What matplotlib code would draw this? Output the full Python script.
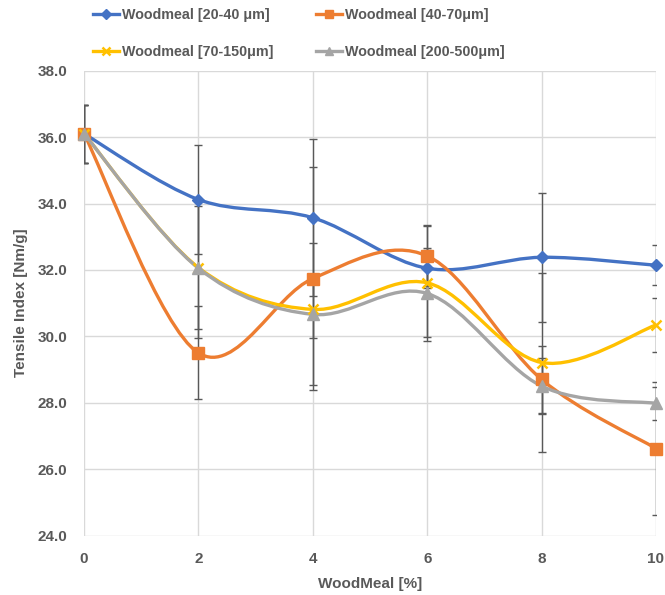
import matplotlib
matplotlib.use("Agg")
import matplotlib.pyplot as plt
import numpy as np
from matplotlib.path import Path
from matplotlib.patches import PathPatch
from matplotlib.lines import Line2D

# ---- data ----
woodmeal_pct = [0, 2, 4, 6, 8, 10]
series_names = ["Woodmeal [20-40 μm]", "Woodmeal [40-70μm]",
                "Woodmeal [70-150μm]", "Woodmeal [200-500μm]"]
tensile_20_40 = [36.1, 34.12, 33.57, 32.05, 32.38, 32.14]
tensile_40_70 = [36.1, 29.50, 31.74, 32.42, 28.70, 26.62]
tensile_70_150 = [36.1, 32.07, 30.81, 31.61, 29.21, 30.34]
tensile_200_500 = [36.1, 32.05, 30.66, 31.29, 28.50, 27.98]
err_20_40 = [0.87, 1.64, 2.36, 0.60, 1.95, 0.60]
err_40_70 = [0.87, 1.40, 3.35, 0.90, 1.00, 2.00]
err_70_150 = [0.87, 1.85, 0.87, 1.74, 2.70, 0.80]
err_200_500 = [0.87, 2.10, 2.14, 1.30, 0.85, 0.50]
y_ticks = [24.0, 26.0, 28.0, 30.0, 32.0, 34.0, 36.0, 38.0]
x_ticks = [0, 2, 4, 6, 8, 10]

colors = ["#4472C4", "#ED7D31", "#FFC000", "#A5A5A5"]
markers = ["D", "s", "x", "^"]
msizes = [6, 8, 7, 8]
values = [tensile_20_40, tensile_40_70, tensile_70_150, tensile_200_500]
errors = [err_20_40, err_40_70, err_70_150, err_200_500]

TXT = "#595959"
plt.rcParams['font.family'] = ['Liberation Sans', 'DejaVu Sans']
plt.rcParams['font.weight'] = 'bold'

fig = plt.figure(figsize=(6.65, 5.95), dpi=100)
ax = fig.add_axes([84/665, 1-535.5/595, (656-84)/665, (535.5-70.7)/595])


def smooth_path(x, y):
    pts = np.column_stack([x, y]).astype(float)
    n = len(pts)
    verts = [pts[0]]
    codes = [Path.MOVETO]
    for i in range(n-1):
        p0 = pts[i-1] if i > 0 else pts[i]
        p1 = pts[i]
        p2 = pts[i+1]
        p3 = pts[i+2] if i+2 < n else pts[i+1]
        c1 = p1 + (p2 - p0) / 6.0
        c2 = p2 - (p3 - p1) / 6.0
        verts += [c1, c2, p2]
        codes += [Path.CURVE4]*3
    return Path(verts, codes)


for v, e in zip(values, errors):
    ax.errorbar(woodmeal_pct, v, yerr=e, fmt='none', ecolor="#595959",
                elinewidth=1.0, capsize=3, capthick=1.0, zorder=2)

handles = []
for v, c, m, ms, name in zip(values, colors, markers, msizes, series_names):
    ax.add_patch(PathPatch(smooth_path(woodmeal_pct, v), fill=False,
                           edgecolor=c, lw=2.4, zorder=3, capstyle='round'))
    mew = 1.8 if m == 'x' else 1
    ax.plot(woodmeal_pct, v, linestyle='none', marker=m, markersize=ms,
            color=c, markeredgecolor=c, markeredgewidth=mew, zorder=4, clip_on=False)
    handles.append(Line2D([0], [0], color=c, lw=2.4, marker=m, markersize=ms*0.8,
                          markeredgewidth=mew, label=name))

ax.set_xlim(0, 10)
ax.set_ylim(24, 38)
ax.set_xticks(x_ticks)
ax.set_yticks(y_ticks)
ax.set_yticklabels([f"{t:.1f}" for t in y_ticks])
ax.grid(True, color="#D9D9D9", lw=1.0, zorder=0)
ax.set_axisbelow(True)
for s in ax.spines.values():
    s.set_visible(False)
ax.tick_params(axis='both', length=0, labelsize=11, labelcolor=TXT)
ax.tick_params(axis='y', pad=12)
ax.tick_params(axis='x', pad=12)
ax.set_xlabel("WoodMeal [%]", fontsize=11, color=TXT, fontweight='bold', labelpad=8)
ax.set_ylabel("Tensile Index [Nm/g]", fontsize=11, color=TXT, fontweight='bold', labelpad=7)

# row-major order as in the reference legend
order = [0, 2, 1, 3]
fig.legend(handles=[handles[i] for i in order], loc='center',
           bbox_to_anchor=(0.449, 0.944), ncol=2,
           frameon=False, fontsize=10.3, labelcolor=TXT, handlelength=1.85,
           handletextpad=0.15, columnspacing=3.0, labelspacing=1.65)

fig.savefig("out.png", dpi=100)
